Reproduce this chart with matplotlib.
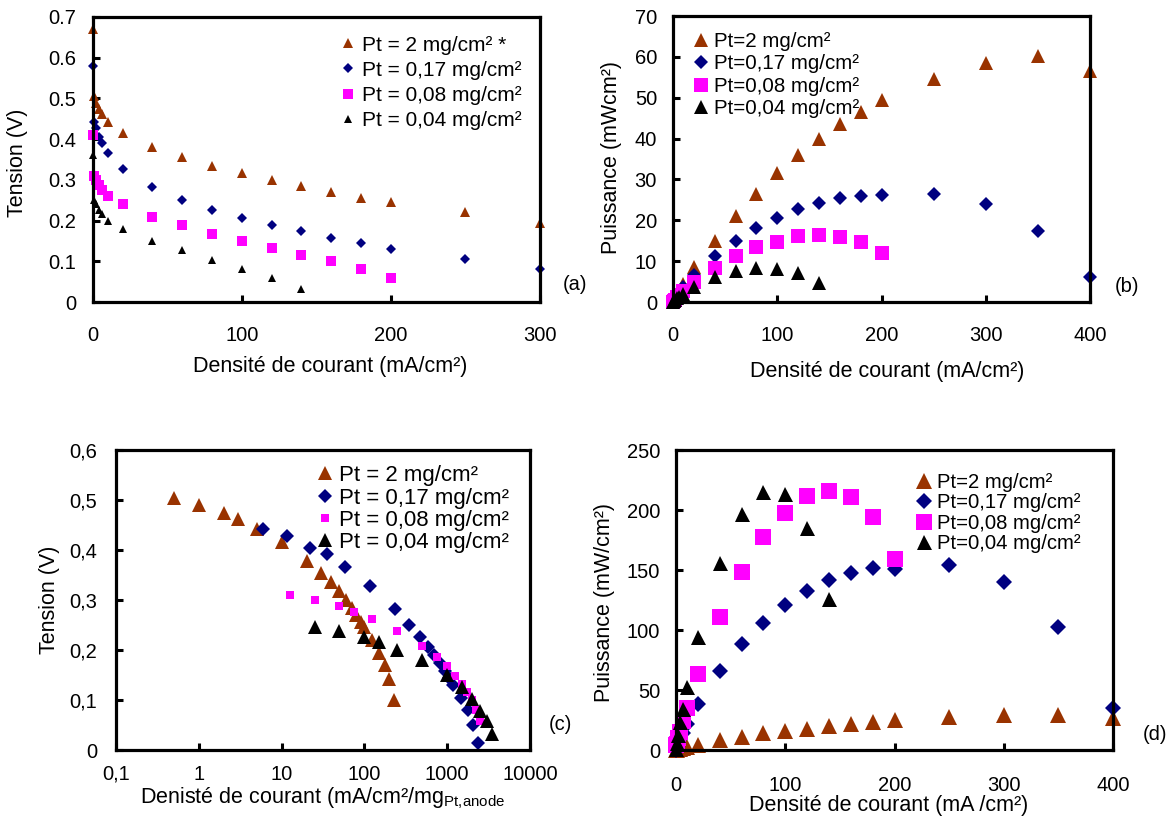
"""
Courbes de polarisation et de puissance pour differents chargements en Pt
"""

import matplotlib
matplotlib.use('Agg')
import matplotlib.pyplot as plt
from matplotlib.ticker import FixedLocator, FuncFormatter, NullLocator

W, H = 1173, 819

BROWN = '#993300'
NAVY = '#000080'
MAGENTA = '#FF00FF'
BLACK = '#000000'

# (a) tension vs densite de courant
a_x_pt2 = [0, 1, 2, 4, 6, 10, 20, 40, 60, 80, 100, 120, 140, 160, 180, 200, 250, 300]
a_v_pt2 = [0.67, 0.505, 0.49, 0.474, 0.462, 0.442, 0.416, 0.38, 0.355, 0.335, 0.318,
           0.30, 0.285, 0.27, 0.256, 0.246, 0.22, 0.195]
a_x_pt017 = [0, 1, 2, 4, 6, 10, 20, 40, 60, 80, 100, 120, 140, 160, 180, 200, 250, 300]
a_v_pt017 = [0.58, 0.443, 0.428, 0.405, 0.39, 0.366, 0.327, 0.282, 0.251, 0.227, 0.207,
             0.19, 0.174, 0.158, 0.145, 0.13, 0.105, 0.08]
a_x_pt008 = [0, 1, 2, 4, 6, 10, 20, 40, 60, 80, 100, 120, 140, 160, 180, 200]
a_v_pt008 = [0.41, 0.31, 0.30, 0.288, 0.276, 0.26, 0.24, 0.21, 0.188, 0.168, 0.15,
             0.133, 0.116, 0.10, 0.08, 0.06]
a_x_pt004 = [0, 1, 2, 4, 6, 10, 20, 40, 60, 80, 100, 120, 140]
a_v_pt004 = [0.36, 0.25, 0.24, 0.225, 0.215, 0.20, 0.18, 0.15, 0.127, 0.104, 0.082,
             0.058, 0.033]

# (b) puissance vs densite de courant
b_x_pt2 = [0, 1, 2, 4, 6, 10, 20, 40, 60, 80, 100, 120, 140, 160, 180, 200, 250, 300, 350, 400]
b_p_pt2 = [0, 0.5, 1, 1.9, 2.8, 4.5, 8.5, 15, 21, 26.5, 31.6, 35.9, 40, 43.5, 46.6, 49.4,
           54.7, 58.4, 60.2, 56.5]
b_x_pt017 = [0, 1, 2, 4, 6, 10, 20, 40, 60, 80, 100, 120, 140, 160, 180, 200, 250, 300, 350, 400]
b_p_pt017 = [0, 0.44, 0.86, 1.6, 2.35, 3.7, 6.6, 11.2, 15, 18.2, 20.6, 22.7, 24.3, 25.4,
             25.9, 26.1, 26.4, 24.1, 17.5, 6]
b_x_pt008 = [0, 1, 2, 4, 6, 10, 20, 40, 60, 80, 100, 120, 140, 160, 180, 200]
b_p_pt008 = [0, 0.31, 0.6, 1.15, 1.66, 2.6, 4.8, 8.4, 11.3, 13.5, 14.8, 16.1, 16.4, 15.9,
             14.7, 12]
b_x_pt004 = [0, 1, 2, 4, 6, 10, 20, 40, 60, 80, 100, 120, 140]
b_p_pt004 = [0, 0.25, 0.48, 0.9, 1.3, 2, 3.7, 6, 7.6, 8.3, 8.1, 7, 4.7]

# (c) tension vs densite de courant massique (echelle log)
c_x_pt2 = [0.5, 1, 2, 3, 5, 10, 20, 30, 40, 50, 60, 70, 80, 90, 100, 125, 150, 175, 200, 225]
c_v_pt2 = [0.505, 0.49, 0.474, 0.462, 0.442, 0.416, 0.378, 0.355, 0.336, 0.318, 0.30,
           0.285, 0.27, 0.256, 0.246, 0.22, 0.195, 0.17, 0.142, 0.10]
c_x_pt017 = [5.9, 11.5, 22, 35, 58, 117, 235, 350, 470, 590, 700, 820, 940, 1060, 1180,
             1470, 1760, 2060, 2350]
c_v_pt017 = [0.443, 0.428, 0.405, 0.392, 0.367, 0.329, 0.283, 0.251, 0.227, 0.207, 0.19,
             0.174, 0.158, 0.145, 0.13, 0.105, 0.08, 0.05, 0.015]
c_x_pt008 = [12.5, 25, 50, 75, 125, 250, 500, 750, 1000, 1250, 1500, 1750, 2000, 2250, 2500]
c_v_pt008 = [0.311, 0.30, 0.288, 0.276, 0.263, 0.239, 0.209, 0.187, 0.169, 0.149, 0.133,
             0.116, 0.10, 0.08, 0.059]
c_x_pt004 = [25, 50, 100, 150, 250, 500, 1000, 1500, 2000, 2500, 3000, 3500]
c_v_pt004 = [0.247, 0.239, 0.226, 0.216, 0.20, 0.18, 0.15, 0.126, 0.102, 0.079, 0.059, 0.032]

# (d) puissance massique vs densite de courant
d_x_pt2 = [0, 1, 2, 4, 6, 10, 20, 40, 60, 80, 100, 120, 140, 160, 180, 200, 250, 300, 350, 400]
d_p_pt2 = [0, 0.25, 0.5, 1, 1.4, 2.2, 4, 8, 11, 14, 15.5, 17.5, 19.8, 21.5, 23, 24.6,
           27.5, 29.3, 29.5, 27]
d_x_pt017 = [0, 1, 2, 4, 6, 10, 20, 40, 60, 80, 100, 120, 140, 160, 180, 200, 250, 300, 350, 400]
d_p_pt017 = [0, 2.6, 5, 9.5, 14, 22, 38.7, 65.7, 88.4, 105.8, 121, 132.6, 141.4, 147.8,
             152, 151, 154, 140, 102.8, 35.4]
d_x_pt008 = [0, 1, 2, 4, 6, 10, 20, 40, 60, 80, 100, 120, 140, 160, 180, 200]
d_p_pt008 = [4, 5, 10, 15, 24, 35, 63.5, 111, 148.6, 177.6, 197.5, 212, 215.5, 210.8, 194, 158.8]
d_x_pt004 = [0, 1, 2, 4, 6, 10, 20, 40, 60, 80, 100, 120, 140]
d_p_pt004 = [1, 5.5, 12.4, 23.5, 34.5, 52.5, 94, 156, 197, 215, 213, 185, 126]

labels_a = ['Pt = 2 mg/cm² *', 'Pt = 0,17 mg/cm²', 'Pt = 0,08 mg/cm²', 'Pt = 0,04 mg/cm²']
labels_b = ['Pt=2 mg/cm²', 'Pt=0,17 mg/cm²', 'Pt=0,08 mg/cm²', 'Pt=0,04 mg/cm²']
labels_c = ['Pt = 2 mg/cm²', 'Pt = 0,17 mg/cm²', 'Pt = 0,08 mg/cm²', 'Pt = 0,04 mg/cm²']
labels_d = ['Pt=2 mg/cm²', 'Pt=0,17 mg/cm²', 'Pt=0,08 mg/cm²', 'Pt=0,04 mg/cm²']

TICK_SIZE = 14.5
LABEL_SIZE = 15.5


def px_axes(fig, left, top, right, bottom):
    return fig.add_axes([left / W, 1 - bottom / H, (right - left) / W, (bottom - top) / H])


def style_axes(ax, xpad, ypad):
    for side in ['top', 'right', 'left', 'bottom']:
        ax.spines[side].set_linewidth(2.3)
        ax.spines[side].set_color('black')
    ax.tick_params(direction='in', length=5, width=2.2, labelsize=TICK_SIZE,
                   top=False, right=False)
    ax.tick_params(axis='x', pad=xpad)
    ax.tick_params(axis='y', pad=ypad)
    ax.tick_params(which='minor', length=0)


def scatter_series(ax, series, sizes):
    markers = ['^', 'D', 's', '^']
    colors = [BROWN, NAVY, MAGENTA, BLACK]
    for (x, y, lab), m, c, ms in zip(series, markers, colors, sizes):
        ax.plot(x, y, linestyle='none', marker=m, color=c, markersize=ms,
                markeredgewidth=0, label=lab, clip_on=False)


def place_legend(ax, fig, marker_x, first_y, fontsize, spacing):
    fpx = fontsize * 100 / 72
    left = marker_x - 0.5 * fpx
    top = first_y - 0.35 * fpx
    ax.legend(loc='upper left', bbox_to_anchor=(left / W, 1 - top / H),
              bbox_transform=fig.transFigure, frameon=False, borderpad=0,
              borderaxespad=0, handlelength=1.0, handletextpad=0.15,
              labelspacing=spacing, fontsize=fontsize)


def label_at(ax, fig, text, x, y, axis):
    if axis == 'x':
        ax.set_xlabel(text, fontsize=LABEL_SIZE)
        ax.xaxis.set_label_coords(x / W, 1 - y / H, transform=fig.transFigure)
        ax.xaxis.label.set_va('center')
    else:
        ax.set_ylabel(text, fontsize=LABEL_SIZE)
        ax.yaxis.set_label_coords(x / W, 1 - y / H, transform=fig.transFigure)
        ax.yaxis.label.set_va('center')


def main():
    plt.rcParams['font.family'] = ['Liberation Sans', 'DejaVu Sans']
    plt.rcParams['mathtext.fontset'] = 'custom'
    plt.rcParams['mathtext.rm'] = 'Liberation Sans'
    plt.rcParams['mathtext.it'] = 'Liberation Sans:italic'

    fig = plt.figure(figsize=(W / 100, H / 100), dpi=100)

    # (a)
    ax = px_axes(fig, 92.7, 17, 540, 302)
    scatter_series(ax, [(a_x_pt2, a_v_pt2, labels_a[0]),
                        (a_x_pt017, a_v_pt017, labels_a[1]),
                        (a_x_pt008, a_v_pt008, labels_a[2]),
                        (a_x_pt004, a_v_pt004, labels_a[3])],
                   [7.5, 4.6, 7.0, 6.3])
    ax.set_xlim(0, 300)
    ax.set_ylim(0, 0.7)
    ax.xaxis.set_major_locator(FixedLocator([0, 100, 200, 300]))
    ax.yaxis.set_major_locator(FixedLocator([i / 10 for i in range(8)]))
    ax.yaxis.set_major_formatter(FuncFormatter(lambda v, p: '0' if v == 0 else f'{v:.1f}'))
    style_axes(ax, 17, 12)
    label_at(ax, fig, 'Densité de courant (mA/cm²)', 330, 367, 'x')
    label_at(ax, fig, 'Tension (V)', 18, 163, 'y')
    place_legend(ax, fig, 348, 43, 15, 0.29)
    fig.text(575 / W, 1 - 284 / H, '(a)', fontsize=TICK_SIZE, ha='center', va='center')

    # (b)
    ax = px_axes(fig, 673, 16, 1090, 302)
    scatter_series(ax, [(b_x_pt2, b_p_pt2, labels_b[0]),
                        (b_x_pt017, b_p_pt017, labels_b[1]),
                        (b_x_pt008, b_p_pt008, labels_b[2]),
                        (b_x_pt004, b_p_pt004, labels_b[3])],
                   [10.5, 7.3, 10.5, 10.0])
    ax.set_xlim(0, 400)
    ax.set_ylim(0, 70)
    ax.xaxis.set_major_locator(FixedLocator([0, 100, 200, 300, 400]))
    ax.yaxis.set_major_locator(FixedLocator(list(range(0, 80, 10))))
    style_axes(ax, 17, 11.5)
    label_at(ax, fig, 'Densité de courant (mA/cm²)', 887, 372, 'x')
    label_at(ax, fig, 'Puissance (mWcm²)', 612, 158, 'y')
    place_legend(ax, fig, 701, 39, 14.8, 0.17)
    fig.text(1127 / W, 1 - 287 / H, '(b)', fontsize=TICK_SIZE, ha='center', va='center')

    # (c)
    ax = px_axes(fig, 116, 450, 530, 750)
    scatter_series(ax, [(c_x_pt2, c_v_pt2, labels_c[0]),
                        (c_x_pt017, c_v_pt017, labels_c[1]),
                        (c_x_pt008, c_v_pt008, labels_c[2]),
                        (c_x_pt004, c_v_pt004, labels_c[3])],
                   [10.0, 7.3, 6.0, 10.0])
    ax.set_xscale('log')
    ax.set_xlim(0.1, 10000)
    ax.set_ylim(0, 0.6)
    ax.xaxis.set_major_locator(FixedLocator([0.1, 1, 10, 100, 1000, 10000]))
    ax.xaxis.set_minor_locator(NullLocator())
    ax.xaxis.set_major_formatter(FuncFormatter(
        lambda v, p: '0,1' if v < 0.5 else f'{v:.0f}'))
    ax.yaxis.set_major_locator(FixedLocator([i / 10 for i in range(7)]))
    ax.yaxis.set_major_formatter(FuncFormatter(
        lambda v, p: '0' if v == 0 else f'{v:.1f}'.replace('.', ',')))
    style_axes(ax, 10.5, 13.5)
    label_at(ax, fig, 'Denisté de courant (mA/cm²/mg$_{\\mathrm{Pt{,}anode}}$', 323, 798, 'x')
    label_at(ax, fig, 'Tension (V)', 49, 600, 'y')
    place_legend(ax, fig, 325, 473, 16, 0.06)
    fig.text(560 / W, 1 - 725 / H, '(c)', fontsize=TICK_SIZE, ha='center', va='center')

    # (d)
    ax = px_axes(fig, 676, 450, 1113, 750)
    scatter_series(ax, [(d_x_pt2, d_p_pt2, labels_d[0]),
                        (d_x_pt017, d_p_pt017, labels_d[1]),
                        (d_x_pt008, d_p_pt008, labels_d[2]),
                        (d_x_pt004, d_p_pt004, labels_d[3])],
                   [11.0, 8.0, 11.0, 10.8])
    ax.set_xlim(0, 400)
    ax.set_ylim(0, 250)
    ax.xaxis.set_major_locator(FixedLocator([0, 100, 200, 300, 400]))
    ax.yaxis.set_major_locator(FixedLocator(list(range(0, 300, 50))))
    style_axes(ax, 19, 11.5)
    label_at(ax, fig, 'Densité de courant (mA /cm²)', 889, 805, 'x')
    label_at(ax, fig, 'Puissance (mW/cm²)', 604, 603, 'y')
    place_legend(ax, fig, 924, 480, 14.6, 0.07)
    fig.text(1155 / W, 1 - 735 / H, '(d)', fontsize=TICK_SIZE, ha='center', va='center')

    fig.savefig('out.png', dpi=100)


if __name__ == '__main__':
    main()
